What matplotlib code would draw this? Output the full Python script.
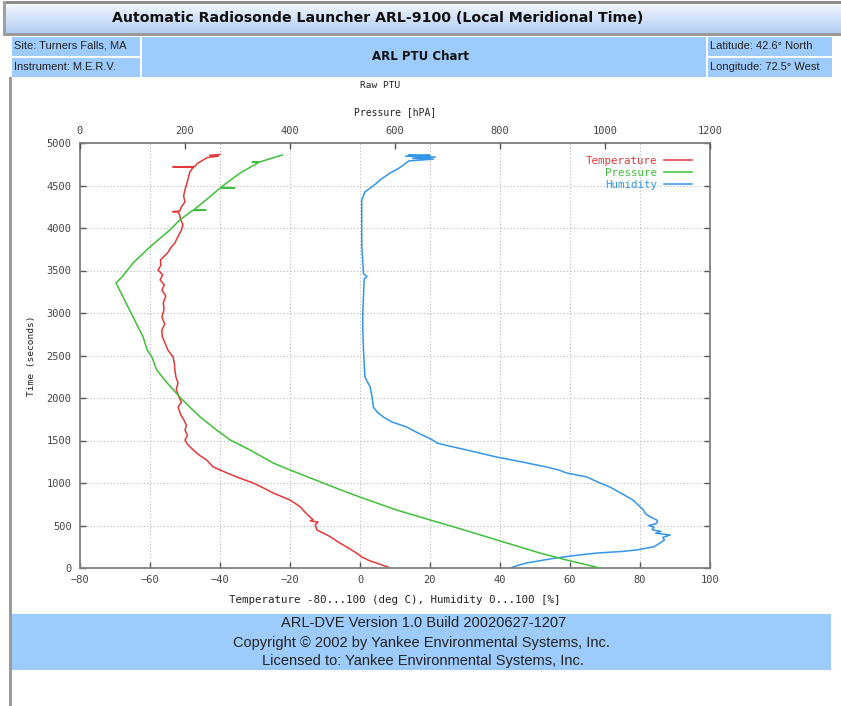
import numpy as np
import matplotlib
matplotlib.use("Agg")
import matplotlib.pyplot as plt
from matplotlib.patches import Rectangle
from matplotlib.colors import LinearSegmentedColormap

W, H = 841, 706

# values
temp_time = [0, 40, 90, 130, 176, 240, 300, 380, 447, 510, 540, 555, 570, 600, 660, 718,
             800, 882, 940, 1000, 1060, 1118, 1190, 1270, 1330, 1388, 1450, 1506, 1560,
             1624, 1680, 1741, 1800, 1894, 1950, 2012, 2100, 2176, 2250, 2330, 2400, 2482,
             2565, 2647, 2720, 2800, 2870, 2953, 3040, 3118, 3200, 3270, 3330, 3388, 3450,
             3506, 3560, 3624, 3706, 3770, 3824, 3900, 3976, 4040, 4094, 4150, 4188, 4192,
             4200, 4250, 4306, 4380, 4447, 4520, 4600, 4660, 4718, 4720, 4722, 4760, 4800,
             4830, 4845, 4855, 4865]
temp_vals = [8.6, 6.0, 2.5, 0.5, -1.0, -3.5, -6.0, -9.0, -12.3, -12.8, -12.0, -14.2, -13.4,
             -14.3, -15.8, -17.0, -20.0, -24.8, -27.5, -30.5, -34.5, -38.0, -42.0, -43.8,
             -46.0, -47.6, -49.2, -50.0, -49.3, -50.0, -49.6, -50.3, -51.2, -52.0, -51.0,
             -51.7, -52.5, -52.0, -52.6, -52.9, -53.0, -53.4, -54.9, -55.7, -56.5, -56.6,
             -55.8, -56.6, -56.0, -56.2, -55.5, -56.6, -55.9, -57.1, -56.4, -57.7, -56.9,
             -57.0, -55.0, -54.0, -52.9, -52.0, -51.0, -50.6, -51.2, -51.5, -51.9, -53.5,
             -51.5, -51.0, -50.0, -50.4, -50.0, -49.5, -49.0, -48.6, -47.6, -53.5, -47.2,
             -46.5, -44.8, -43.5, -40.5, -43.0, -40.0]

pres_time = [0, 94, 176, 330, 450, 565, 682, 835, 918, 1000, 1153, 1235, 1388, 1506, 1624,
             1776, 1900, 2012, 2170, 2330, 2482, 2565, 2721, 2953, 3188, 3353, 3424, 3588,
             3776, 3976, 4094, 4205, 4210, 4215, 4340, 4470, 4473, 4478, 4647, 4770, 4774,
             4778, 4859]
pres_vals = [990, 927, 876, 794, 730, 667, 603, 533, 497, 463, 400, 368, 324, 286, 260,
             229, 208, 190, 167, 146, 137, 128, 120, 101, 82, 68.6, 80, 101, 133, 171, 190,
             214, 240, 217, 242, 267, 295, 268, 305, 340, 328, 343, 385]

hum_time = [0, 30, 59, 90, 118, 150, 176, 195, 212, 250, 294, 330, 360, 388, 410, 430, 450,
            480, 500, 520, 545, 565, 600, 640, 682, 740, 800, 870, 953, 1010, 1071, 1118,
            1150, 1188, 1250, 1306, 1388, 1430, 1471, 1500, 1541, 1600, 1659, 1720, 1776,
            1830, 1894, 2000, 2130, 2200, 2247, 2400, 2565, 2800, 3000, 3200, 3400, 3430,
            3460, 3600, 3800, 4000, 4200, 4330, 4424, 4529, 4565, 4647, 4700, 4741, 4790,
            4810, 4820, 4835, 4845, 4855, 4862]
hum_vals = [42.9, 45, 47.6, 52, 56, 62, 67.7, 75, 79, 84, 85.7, 87, 86.5, 88.6, 84.5, 86,
            83.5, 84, 82.5, 84.5, 85, 84.8, 83, 81.5, 81, 79.5, 78, 75, 71.4, 68, 64.8, 59,
            57, 53.3, 46, 39, 30.5, 26, 21.9, 21, 19, 16, 13.3, 9, 6.7, 5, 3.8, 3.5, 2.9,
            2, 1.4, 1.2, 1.0, 0.8, 0.8, 1.0, 1.2, 2.0, 1.0, 0.8, 0.5, 0.5, 0.5, 0.5, 1.4,
            4.8, 5.7, 8.6, 11, 12.4, 14, 21, 15, 21.5, 13, 20, 14]

temp_ticks = [-80, -60, -40, -20, 0, 20, 40, 60, 80, 100]
pres_ticks = [0, 200, 400, 600, 800, 1000, 1200]
time_ticks = [0, 500, 1000, 1500, 2000, 2500, 3000, 3500, 4000, 4500, 5000]

RED = "#e03a3a"
GREEN = "#3fbf3a"
BLUE = "#3496e6"
PANEL = "#9dcbfb"
MONO = "DejaVu Sans Mono"

fig = plt.figure(figsize=(W / 100, H / 100), dpi=100)
fig.patch.set_facecolor("white")


def box(x0, y0, x1, y1, color):
    fig.patches.append(Rectangle((x0 / W, 1 - y1 / H), (x1 - x0) / W, (y1 - y0) / H,
                                 transform=fig.transFigure, facecolor=color,
                                 edgecolor="none", zorder=0))


def label(x, y, s, **kw):
    fig.text(x / W, 1 - y / H, s, va="center", **kw)


# title bar with a soft gradient
bar = fig.add_axes([5 / W, 1 - 33 / H, (W - 5) / W, 28 / H])
grad = LinearSegmentedColormap.from_list("bar", ["#eef4fd", "#b4cff4"])
bar.imshow(np.linspace(0, 1, 50).reshape(-1, 1), aspect="auto", cmap=grad,
           extent=[0, 1, 0, 1])
bar.set_axis_off()
box(3, 1, W, 4, "#8c8c8c")
box(3, 33, W, 36, "#9a9a9a")
box(3, 1, 6, 36, "#a0a0a0")
label(378, 18, "Automatic Radiosonde Launcher ARL-9100 (Local Meridional Time)",
      ha="center", fontsize=10.2, fontweight="bold", color="#111111")

# info panel
box(12, 37, 832, 77, PANEL)
box(140, 37, 142, 77, "white")
box(706, 37, 708, 77, "white")
box(12, 56, 140, 58, "white")
box(708, 56, 832, 58, "white")
small = dict(fontsize=8, color="#222222", family=["Liberation Sans Narrow", "Liberation Sans"])
label(14, 46, "Site: Turners Falls, MA", ha="left", **small)
label(14, 67, "Instrument: M.E.R.V.", ha="left", **small)
label(710, 46, "Latitude: 42.6\u00b0 North", ha="left", **small)
label(710, 67, "Longitude: 72.5\u00b0 West", ha="left", **small)
label(421, 57, "ARL PTU Chart", ha="center", fontsize=8.5, fontweight="bold", color="#111111")

# left window edge
box(9, 77, 12, H, "#9a9a9a")

# footer
box(12, 614, 831, 670, PANEL)
foot = dict(ha="center", fontsize=10.5, color="#222222",
            family=["Liberation Sans Narrow", "Liberation Sans"])
label(424, 623, "ARL-DVE Version 1.0 Build 20020627-1207", **foot)
label(421, 643, "Copyright \u00a9 2002 by Yankee Environmental Systems, Inc.", **foot)
label(423, 661, "Licensed to: Yankee Environmental Systems, Inc.", **foot)

# chart
ax = fig.add_axes([80 / W, 1 - 568 / H, 630 / W, 425 / H])
ax.set_xlim(-80, 100)
ax.set_ylim(0, 5000)
ax.set_xticks(temp_ticks)
ax.set_yticks(time_ticks)
ax.grid(True, color="#b8b8b8", linestyle=(0, (1, 2)), linewidth=0.8)
ax.tick_params(direction="in", length=4, width=1, color="#555555", labelsize=7.5,
               labelcolor="#444444", top=True, right=True)
ax.tick_params(axis="x", pad=5)
ax.tick_params(axis="y", pad=6)
for t in ax.get_xticklabels() + ax.get_yticklabels():
    t.set_family(MONO)
for sp in ax.spines.values():
    sp.set_color("#808080")
    sp.set_linewidth(1.3)

ln_t, = ax.plot(temp_vals, temp_time, color=RED, lw=1.1, label="Temperature")
ln_h, = ax.plot(hum_vals, hum_time, color=BLUE, lw=1.1, label="Humidity")
ax.set_xlabel("Temperature -80...100 (deg C), Humidity 0...100 [%]", fontsize=7.8,
              family=MONO, color="#222222", labelpad=7)
ax.set_ylabel("Time (seconds)", fontsize=6.8, family=MONO, color="#222222", labelpad=8)

ax2 = ax.twiny()
ax2.set_xlim(0, 1200)
ax2.set_xticks(pres_ticks)
ax2.tick_params(direction="in", length=4, width=1, color="#555555", labelsize=7.5,
                labelcolor="#444444", pad=5)
for t in ax2.get_xticklabels():
    t.set_family(MONO)
for sp in ax2.spines.values():
    sp.set_visible(False)
ln_p, = ax2.plot(pres_vals, pres_time, color=GREEN, lw=1.1, label="Pressure")
ax2.set_xlabel("Pressure [hPA]", fontsize=7, family=MONO, color="#222222", labelpad=8)

leg = ax2.legend(handles=[ln_t, ln_p, ln_h], loc="upper right", frameon=False,
                 markerfirst=False, labelcolor="linecolor",
                 prop={"family": MONO, "size": 7.8},
                 handlelength=2.6, handletextpad=0.6, labelspacing=0.2,
                 borderaxespad=0.4, bbox_to_anchor=(0.985, 0.99))

label(380, 85, "Raw PTU", ha="center", fontsize=6.8, family=MONO, color="#222222")

fig.savefig("out.png", dpi=100)
